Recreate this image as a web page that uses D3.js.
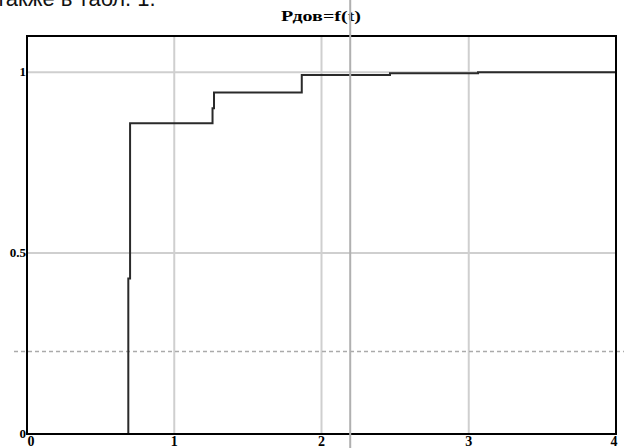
<!DOCTYPE html>
<html>
<head>
<meta charset="utf-8">
<script src="https://cdn.jsdelivr.net/npm/d3@7"></script>
<style>
  body { margin: 0; background: #fff; }
  svg { display: block; }
</style>
</head>
<body>
<svg id="chart"></svg>
<script>
// step points of Pдов(t)
const stepT = [0, 0.688, 0.70, 1.26, 1.27, 1.866, 2.465, 3.063, 4];
const stepP = [0, 0.43, 0.859, 0.90, 0.944, 0.992, 0.997, 0.9995, 1.0];

const xTicks = [0, 1, 2, 3, 4];
const yTicks = [0, 0.5, 1];
const markerT = 2.195;   // extra vertical marker
const markerP = 0.228;   // dashed horizontal level

const title = 'Рдов=f(t)';
const topText = 'также в табл. 1.';

const width = 624, height = 448;
const margin = { top: 36, right: 8, bottom: 14, left: 27 };

const svg = d3.select('#chart').attr('width', width).attr('height', height);

const x = d3.scaleLinear().domain([0, 4]).range([margin.left, width - margin.right]);
const y = d3.scaleLinear().domain([0, 1.1]).range([height - margin.bottom, margin.top]);

// cut-off text line from the page above
svg.append('text')
  .attr('x', -4).attr('y', 6)
  .style('font-family', '"Liberation Sans", Arial, sans-serif')
  .style('font-size', '22px')
  .attr('fill', '#111')
  .text(topText);

// title (stretched like the original)
svg.append('text')
  .attr('x', 281).attr('y', 21)
  .attr('textLength', 80)
  .attr('lengthAdjust', 'spacingAndGlyphs')
  .style('font-family', '"Liberation Serif", "Times New Roman", serif')
  .style('font-weight', 'bold')
  .style('font-size', '15px')
  .text(title);

// grid
svg.append('g').selectAll('line')
  .data(xTicks.slice(1, -1))
  .join('line')
  .attr('x1', d => x(d)).attr('x2', d => x(d))
  .attr('y1', y(1.1)).attr('y2', y(0))
  .attr('stroke', '#cfcfcf').attr('stroke-width', 2);

svg.append('g').selectAll('line')
  .data(yTicks.slice(1))
  .join('line')
  .attr('x1', x(0)).attr('x2', x(4))
  .attr('y1', d => y(d)).attr('y2', d => y(d))
  .attr('stroke', '#cfcfcf').attr('stroke-width', 2);

// dashed level
svg.append('line')
  .attr('x1', 14).attr('x2', width)
  .attr('y1', y(markerP)).attr('y2', y(markerP))
  .attr('stroke', '#aaa').attr('stroke-width', 1.5)
  .attr('stroke-dasharray', '4,3');

// step curve
const pts = stepT.map((t, i) => [t, stepP[i]]);
const line = d3.line()
  .x(d => x(d[0])).y(d => y(d[1]))
  .curve(d3.curveStepAfter);

svg.append('path')
  .datum(pts)
  .attr('d', line)
  .attr('fill', 'none')
  .attr('stroke', '#2a2a2a')
  .attr('stroke-width', 2);

// frame
svg.append('rect')
  .attr('x', x(0)).attr('y', y(1.1))
  .attr('width', x(4) - x(0)).attr('height', y(0) - y(1.1))
  .attr('fill', 'none').attr('stroke', '#000').attr('stroke-width', 2);

// full-height marker line
svg.append('line')
  .attr('x1', x(markerT)).attr('x2', x(markerT))
  .attr('y1', 0).attr('y2', height)
  .attr('stroke', '#b0b0b0').attr('stroke-width', 2);

// tick labels
const labelFont = '"Liberation Serif", "Times New Roman", serif';
svg.append('g').selectAll('text')
  .data(xTicks)
  .join('text')
  .attr('x', d => d === 0 ? x(d) + 4 : (d === 4 ? x(d) - 2 : x(d)))
  .attr('y', height - 2)
  .attr('text-anchor', 'middle')
  .style('font-family', labelFont)
  .style('font-weight', 'bold')
  .style('font-size', '14px')
  .text(d => d);

svg.append('g').selectAll('text')
  .data(yTicks)
  .join('text')
  .attr('x', x(0) - 1)
  .attr('y', d => y(d) + 4)
  .attr('text-anchor', 'end')
  .style('font-family', labelFont)
  .style('font-weight', 'bold')
  .style('font-size', '13px')
  .text(d => d);
</script>
</body>
</html>
